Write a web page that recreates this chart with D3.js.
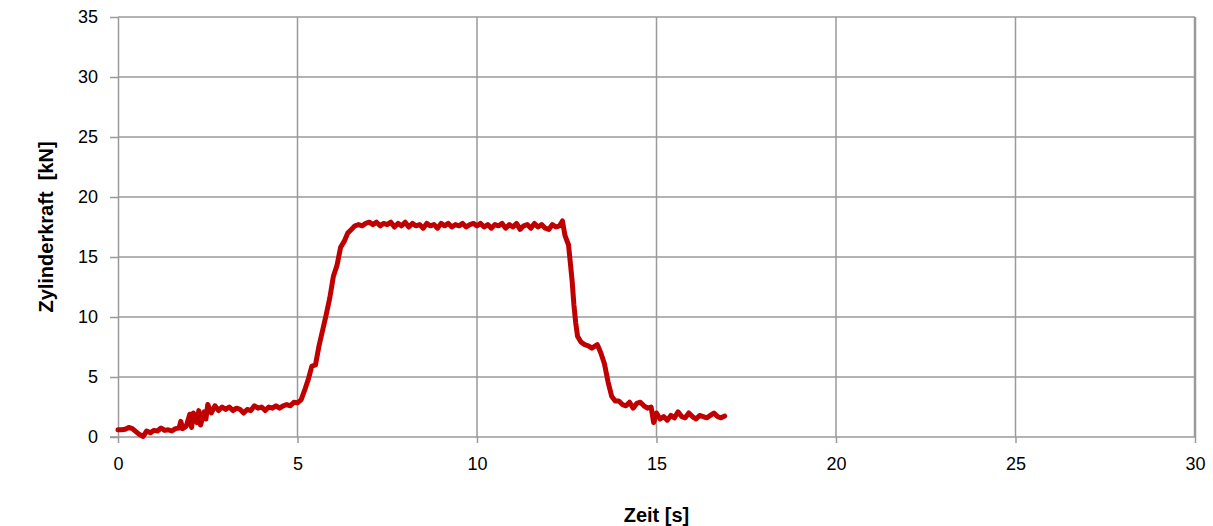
<!DOCTYPE html>
<html>
<head>
<meta charset="utf-8">
<script src="https://cdn.jsdelivr.net/npm/d3@7"></script>
<style>
  body { margin: 0; background: #fff; }
  svg { display: block; font-family: "Liberation Sans", Arial, sans-serif; }
</style>
</head>
<body>
<script>
// Zeit [s]
var zeit = [
  0.0, 0.1, 0.2, 0.3, 0.4, 0.5, 0.6, 0.7, 0.8, 0.9,
  1.0, 1.1, 1.2, 1.3, 1.4, 1.5, 1.6, 1.7, 1.75, 1.8, 1.9,
  2.0, 2.05, 2.1, 2.2, 2.25, 2.3, 2.4, 2.45, 2.5, 2.6, 2.7, 2.8, 2.9,
  3.0, 3.1, 3.2, 3.3, 3.4, 3.5, 3.6, 3.7, 3.8, 3.9,
  4.0, 4.1, 4.2, 4.3, 4.4, 4.5, 4.6, 4.7, 4.8, 4.9,
  5.0, 5.1, 5.2, 5.3, 5.4, 5.5, 5.6, 5.7, 5.8, 5.9,
  6.0, 6.1, 6.2, 6.3, 6.4, 6.5, 6.6, 6.7, 6.8, 6.9,
  7.0, 7.1, 7.2, 7.3, 7.4, 7.5, 7.6, 7.7, 7.8, 7.9,
  8.0, 8.1, 8.2, 8.3, 8.4, 8.5, 8.6, 8.7, 8.8, 8.9,
  9.0, 9.1, 9.2, 9.3, 9.4, 9.5, 9.6, 9.7, 9.8, 9.9,
  10.0, 10.1, 10.2, 10.3, 10.4, 10.5, 10.6, 10.7, 10.8, 10.9,
  11.0, 11.1, 11.2, 11.3, 11.4, 11.5, 11.6, 11.7, 11.8, 11.9,
  12.0, 12.1, 12.2, 12.3, 12.38, 12.45, 12.55, 12.6, 12.65, 12.7, 12.75, 12.8, 12.9,
  13.0, 13.1, 13.2, 13.3, 13.35, 13.45, 13.55, 13.65, 13.75, 13.85, 13.95,
  14.05, 14.15, 14.25, 14.35, 14.45, 14.55, 14.65, 14.75, 14.85, 14.92,
  15.0, 15.1, 15.2, 15.3, 15.4, 15.5, 15.6, 15.7, 15.8, 15.9,
  16.0, 16.1, 16.2, 16.3, 16.4, 16.5, 16.6, 16.7, 16.8, 16.9
];

// Zylinderkraft [kN]
var kraft = [
  0.6, 0.6, 0.65, 0.8, 0.7, 0.45, 0.2, 0.05, 0.5, 0.35,
  0.55, 0.5, 0.75, 0.55, 0.6, 0.5, 0.7, 0.75, 1.3, 0.7, 0.9,
  1.9, 0.8, 2.0, 1.2, 2.2, 1.0, 2.1, 1.5, 2.7, 2.0, 2.6, 2.2, 2.5,
  2.3, 2.5, 2.2, 2.4, 2.3, 2.0, 2.3, 2.2, 2.6, 2.4,
  2.5, 2.2, 2.5, 2.4, 2.6, 2.4, 2.6, 2.7, 2.6, 2.9,
  2.85, 3.1, 3.9, 4.8, 5.9, 6.0, 7.6, 8.9, 10.2, 11.6,
  13.4, 14.3, 15.8, 16.3, 17.0, 17.3, 17.6, 17.7, 17.6, 17.8,
  17.9, 17.7, 17.9, 17.6, 17.8, 17.7, 17.9, 17.5, 17.8, 17.6,
  17.9, 17.5, 17.8, 17.6, 17.7, 17.4, 17.8, 17.6, 17.7, 17.4,
  17.8, 17.6, 17.8, 17.5, 17.7, 17.6, 17.8, 17.5, 17.7, 17.8,
  17.6, 17.8, 17.5, 17.7, 17.4, 17.7, 17.6, 17.8, 17.4, 17.7,
  17.5, 17.8, 17.3, 17.6, 17.7, 17.4, 17.8, 17.5, 17.7, 17.4,
  17.3, 17.7, 17.5, 17.6, 18.0, 16.8, 16.0, 14.5, 13.0, 11.0, 9.5, 8.4, 7.9,
  7.7, 7.6, 7.4, 7.6, 7.7, 7.0, 6.1, 4.6, 3.4, 3.0, 3.0,
  2.7, 2.6, 2.9, 2.4, 2.8, 2.9, 2.6, 2.4, 2.5, 1.2,
  2.0, 1.5, 1.7, 1.4, 1.8, 1.6, 2.1, 1.7, 1.6, 2.0,
  1.7, 1.5, 1.8, 1.7, 1.6, 1.8, 2.0, 1.7, 1.6, 1.75
];

var xTicks = [0, 5, 10, 15, 20, 25, 30];
var yTicks = [0, 5, 10, 15, 20, 25, 30, 35];

var width = 1213,
    height = 526,
    margin = {top: 17, right: 18, bottom: 89, left: 118};

var gridColor = "#9a9a9a";

var svg = d3.select("body").append("svg")
    .attr("width", width)
    .attr("height", height);

var x = d3.scaleLinear().domain([0, 30]).range([margin.left, width - margin.right]);
var y = d3.scaleLinear().domain([0, 35]).range([height - margin.bottom, margin.top]);

// gridlines
svg.append("g").selectAll("line")
    .data(yTicks.slice(1))
    .enter().append("line")
    .attr("x1", x(0)).attr("x2", x(30))
    .attr("y1", function(d) { return y(d); })
    .attr("y2", function(d) { return y(d); })
    .attr("stroke", gridColor)
    .attr("stroke-width", 1.5);

svg.append("g").selectAll("line")
    .data(xTicks.slice(1))
    .enter().append("line")
    .attr("y1", y(0)).attr("y2", y(35))
    .attr("x1", function(d) { return x(d); })
    .attr("x2", function(d) { return x(d); })
    .attr("stroke", gridColor)
    .attr("stroke-width", function(d) { return d === 30 ? 2.5 : 1.5; });

// axes
var xAxis = svg.append("g")
    .attr("transform", "translate(0," + y(0) + ")")
    .call(d3.axisBottom(x).tickValues(xTicks).tickSize(6).tickPadding(14).tickSizeOuter(0));

var yAxis = svg.append("g")
    .attr("transform", "translate(" + x(0) + ",0)")
    .call(d3.axisLeft(y).tickValues(yTicks).tickSize(8).tickPadding(12).tickSizeOuter(0));

[xAxis, yAxis].forEach(function(a) {
  a.select(".domain").attr("stroke", gridColor).attr("stroke-width", 1.5);
  a.selectAll(".tick line").attr("stroke", gridColor).attr("stroke-width", 1.5);
  a.selectAll(".tick text")
    .attr("fill", "#000")
    .style("font-size", "18px")
    .style("font-family", "'Liberation Sans', Arial, sans-serif");
});
xAxis.select(".domain").attr("d", "M" + (x(0) - 8) + ",0H" + x(30));

// data line
var line = d3.line()
    .x(function(d) { return x(d[0]); })
    .y(function(d) { return y(d[1]); });

svg.append("path")
    .datum(d3.zip(zeit, kraft))
    .attr("d", line)
    .attr("fill", "none")
    .attr("stroke", "#c00000")
    .attr("stroke-width", 5)
    .attr("stroke-linejoin", "round")
    .attr("stroke-linecap", "round");

// axis titles
svg.append("text")
    .attr("x", (x(0) + x(30)) / 2)
    .attr("y", 522)
    .attr("text-anchor", "middle")
    .style("font-size", "20px")
    .style("font-weight", "bold")
    .text("Zeit [s]");

svg.append("text")
    .attr("transform", "translate(53," + y(17.5) + ") rotate(-90)")
    .attr("text-anchor", "middle")
    .style("font-size", "20px")
    .style("font-weight", "bold")
    .style("white-space", "pre")
    .text("Zylinderkraft  [kN]");
</script>
</body>
</html>
